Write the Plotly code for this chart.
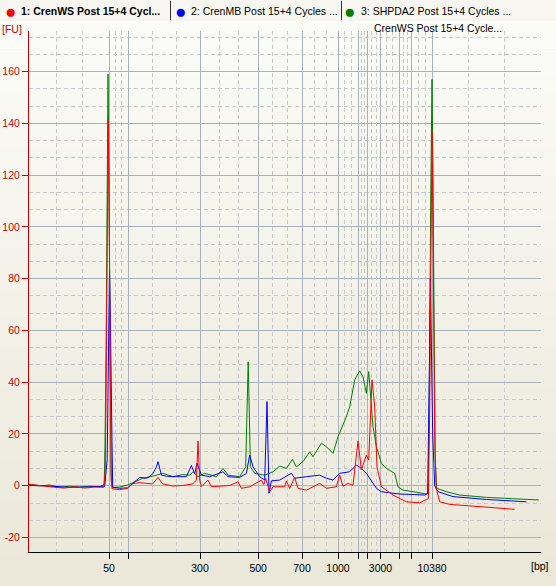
import plotly.graph_objects as go

# ---------------- data ----------------
# ladder (size standard): migration time (s) and fragment size (bp)
ladder_bp = [50, 100, 300, 500, 700, 1000, 1500, 2000, 3000, 5000, 7000, 10380]
ladder_time = [33.0, 36.8, 51.2, 62.84, 71.6, 78.8, 82.88, 84.6, 87.3, 91.0, 93.4, 97.6]
ladder_label = ["50", "", "300", "500", "700", "1000", "", "", "3000", "", "", "10380"]

fu_ticks = [-20, 0, 20, 40, 60, 80, 100, 120, 140, 160]

red_name = "1: CrenWS Post 15+4 Cycl..."
blue_name = "2: CrenMB Post 15+4 Cycles ..."
green_name = "3: SHPDA2 Post 15+4 Cycles ..."

red_t = [17.0, 18.1, 20.1, 22.1, 24.1, 26.1, 28.1, 30.1, 31.94, 32.24, 32.44, 32.64, 32.84, 33.04,
         33.24, 33.44, 33.64, 35.14, 36.74, 37.74, 39.14, 41.74, 42.8, 43.74, 45.74, 47.74, 49.74,
         50.48, 50.8, 51.14, 51.48, 52.8, 53.48, 55.14, 57.14, 58.8, 59.48, 61.14, 62.8, 63.48,
         63.94, 64.34, 65.14, 65.8, 68.14, 68.48, 69.14, 70.14, 70.8, 72.48, 75.14, 76.48, 78.48,
         79.14, 79.8, 80.8, 81.8, 82.8, 83.48, 84.48, 84.94, 85.6, 86.14, 86.6, 87.48, 89.8,
         92.48, 95.14, 96.48, 96.88, 97.14, 97.4, 97.6, 97.84, 98.14, 98.44, 98.8, 99.14, 101.14,
         105.14, 108.48, 114.14]
red_fu = [0.6, 0.3, -0.2, -0.6, -0.9, -0.4, -0.9, -0.5, -0.6, 5, 40, 105, 141, 100,
          30, 2, -1.2, -1.5, -1.0, 0.8, 1.2, 0.7, 3.2, 0.7, -0.1, 0.1, 0.7,
          2.2, 17.3, 2.2, -0.4, 2.2, -0.4, -0.1, 0.1, 1.5, -1.0, -0.4, 1.5, 2.2,
          0.5, 2.8, -2.3, -0.4, -0.4, 1.9, -1.0, 3.2, -1.0, -1.7, 0.9, -1.0, -0.4,
          4.1, -0.2, 0.9, 0.2, 17.3, 6.1, 11.9, 9.9, 40.9, 30.5, 7.3, -0.4, -3.6,
          -6.2, -6.6, -5.3, -5.0, 30, 110, 137, 90, 20, -1.0, -4.2, -6.2, -7.2,
          -7.8, -8.4, -9.1]

blue_t = [17.0, 19.14, 22.1, 25.14, 28.14, 31.14, 32.14, 32.64, 32.9, 33.1, 33.3, 33.44, 33.6,
          33.74, 35.14, 36.74, 37.8, 39.14, 40.48, 41.14, 41.8, 42.48, 42.8, 43.48, 44.48, 45.8,
          48.48, 49.48, 50.14, 50.6, 51.48, 53.14, 55.8, 56.8, 59.14, 60.48, 61.14, 61.8, 63.14,
          64.14, 64.6, 65.0, 65.48, 67.14, 69.48, 70.14, 72.48, 75.14, 76.48, 77.8, 79.14, 81.14,
          82.48, 83.48, 84.48, 85.14, 86.48, 87.48, 91.14, 94.14, 96.14, 96.74, 96.94, 97.14,
          97.28, 97.44, 97.74, 98.14, 98.8, 101.8, 108.48, 116.48]
blue_fu = [0.3, 0.1, -0.3, -0.6, -0.5, -0.3, -0.2, 10, 50, 84, 60, 26, 17,
           -0.5, -1.0, -0.8, 0.9, 3.2, 2.9, 3.5, 4.8, 7.3, 9.3, 4.1, 3.7, 3.5,
           3.5, 7.8, 4.6, 8.7, 4.1, 3.5, 5.4, 3.5, 3.2, 4.8, 11.9, 7.3, 3.5,
           2.2, 32.5, -2.9, 1.9, 2.2, 4.8, 2.9, 3.5, 4.1, 2.9, 2.2, 4.8, 5.4,
           8.0, 6.7, 4.8, 2.9, -1.0, -2.3, -3.2, -3.4, -3.6, -3.0, 20, 55,
           80, 60, 20, 0, -2.3, -4.2, -5.3, -6.2]

green_t = [17.0, 19.14, 21.14, 23.14, 25.14, 27.14, 29.14, 31.14, 32.04, 32.2, 32.44, 32.64, 32.8,
           33.0, 33.2, 33.4, 33.64, 35.14, 36.74, 38.14, 39.74, 41.74, 43.8, 45.8, 47.74, 49.14,
           49.8, 50.8, 52.14, 54.48, 55.8, 56.8, 59.14, 60.34, 60.64, 60.84, 61.04, 61.28, 62.14,
           64.14, 65.8, 67.14, 68.48, 69.68, 70.48, 71.8, 73.14, 73.8, 75.48, 76.48, 77.8, 78.8,
           80.48, 81.14, 82.14, 83.14, 83.8, 84.48, 84.94, 85.28, 85.8, 86.48, 87.48, 88.48, 90.14,
           90.8, 91.8, 93.8, 96.48, 96.8, 97.04, 97.34, 97.6, 97.8, 98.04, 98.24, 98.54, 100.48,
           103.14, 108.48, 118.94]
green_fu = [0.2, -0.1, 0.3, -0.6, -0.2, -0.5, -0.2, -0.4, 0.5, 15, 58, 125, 159,
            120, 45, 5, -0.8, -0.5, 0.3, 1.5, 2.9, 3.7, 4.8, 3.5, 4.3, 4.1,
            5.4, 3.5, 4.8, 3.5, 6.7, 4.1, 3.5, 7.3, 30, 47.9, 30, 7.3, 4.8,
            4.1, 5.4, 7.6, 6.7, 10.2, 7.3, 9.3, 13.1, 11.2, 16.4, 15.1, 12.5, 18.9,
            26.7, 30.5, 40.9, 44.4, 42.1, 35.7, 44.1, 34.4, 22.8, 15.1, 8.7, 6.7, 4.8,
            -0.4, -1.7, -2.3, -3.2, -2.5, 30, 110, 157, 120, 55, 10, -1.0, -2.3,
            -3.6, -4.5, -5.5]

# ---------------- style / layout helpers ----------------
W, H = 556, 586
ML, MR, MT, MB = 29, 15, 31, 34
PW, PH = W - ML - MR, H - MT - MB
FONT = "Liberation Sans"


def px(x):
    return (x - ML) / PW


def py(y):
    return (H - MB - y) / PH


# minor (dashed) vertical grid: thirds between ladder peaks, plus extension
minor_x = []
for a, b in zip(ladder_time[:-1], ladder_time[1:]):
    minor_x += [a + (b - a) / 3, a + 2 * (b - a) / 3]
minor_x += [ladder_time[0] - 5.3 * k for k in (1, 2)]
minor_x += [ladder_time[-1] + 7.2 * k for k in (1, 2, 3)]

fig = go.Figure()
for t, v, c in [(green_t, green_fu, "#008000"), (blue_t, blue_fu, "#0000ff"), (red_t, red_fu, "#ff0000")]:
    fig.add_trace(go.Scatter(x=t, y=v, mode="lines", line=dict(color=c, width=1), hoverinfo="skip"))

# background gradient (whole window) as stacked stripes
shapes = []
N = 40
top_c = (251, 251, 248)
bot_c = (235, 232, 217)
for i in range(N):
    f = i / (N - 1)
    col = tuple(round(top_c[k] + (bot_c[k] - top_c[k]) * f) for k in range(3))
    y0 = 21 + (H - 21) * i / N
    y1 = 21 + (H - 21) * (i + 1) / N
    shapes.append(dict(type="rect", xref="paper", yref="paper", x0=px(0), x1=px(W),
                       y0=py(y1 + 0.5), y1=py(y0), fillcolor="rgb(%d,%d,%d)" % col,
                       line=dict(width=0), layer="below"))
# tab strip
shapes.append(dict(type="rect", xref="paper", yref="paper", x0=px(0), x1=px(W), y0=py(21), y1=py(0),
                   fillcolor="#f7f6f1", line=dict(width=0), layer="below"))
for sx in (170.5, 341.5):
    shapes.append(dict(type="line", xref="paper", yref="paper", x0=px(sx), x1=px(sx), y0=py(20), y1=py(1),
                       line=dict(color="#303030", width=1), layer="above"))

annotations = []


def txt(text, x, y, color="#000000", size=10.5, xanchor="left", bold=False, family=FONT):
    annotations.append(dict(text=("<b>%s</b>" % text) if bold else text, x=px(x), y=py(y), xref="paper",
                            yref="paper", xanchor=xanchor, yanchor="middle", showarrow=False,
                            font=dict(family=family, size=size, color=color)))


txt("●", 3, 11, color="#ff0000", size=19)
txt(red_name, 19, 11, bold=True)
txt("●", 173, 11, color="#0000ff", size=19)
txt(blue_name, 189, 11)
txt("●", 342, 11, color="#008000", size=19)
txt(green_name, 359, 11)
txt("CrenWS Post 15+4 Cycle...", 504, 28, xanchor="right")
txt("[FU]", 0, 29, color="#cc0000")
txt("[bp]", 529, 566)

fig.update_layout(
    width=W, height=H,
    margin=dict(l=ML, r=MR, t=MT, b=MB, pad=0, autoexpand=False),
    paper_bgcolor="#ece9d8",
    plot_bgcolor="rgba(0,0,0,0)",
    showlegend=False,
    hovermode=False,
    shapes=shapes,
    annotations=annotations,
    font=dict(family=FONT, size=10.5, color="#000000"),
    xaxis=dict(
        range=[17, 17 + PW / 5.0], automargin=False,
        tickmode="array", tickvals=ladder_time, ticktext=ladder_label,
        showgrid=True, gridcolor="#a9b1bd", gridwidth=1,
        minor=dict(tickvals=minor_x, showgrid=True, gridcolor="#c9c9c9", griddash="4px,3px", ticks=""),
        showline=True, linecolor="#000000", linewidth=1,
        ticks="outside", ticklen=6, tickcolor="#000000",
        tickfont=dict(family=FONT, size=10.5, color="#000000"),
        zeroline=False, fixedrange=True,
    ),
    yaxis=dict(
        range=[-25.6, 175.7], automargin=False,
        tickmode="array", tickvals=fu_ticks, ticktext=[str(v) for v in fu_ticks],
        showgrid=True, gridcolor="#a9b1bd", gridwidth=1,
        minor=dict(dtick=20 / 3, tick0=0, showgrid=True, gridcolor="#c9c9c9", griddash="4px,3px", ticks=""),
        showline=True, linecolor="#cc0000", linewidth=1,
        ticks="outside", ticklen=6, tickcolor="#cc0000",
        tickfont=dict(family=FONT, size=10.5, color="#cc0000"),
        zeroline=False, fixedrange=True,
    ),
)

fig.write_html("out.html", config={"displayModeBar": False, "staticPlot": True},
               post_script="document.body.style.margin='0';document.body.style.overflow='hidden';")
